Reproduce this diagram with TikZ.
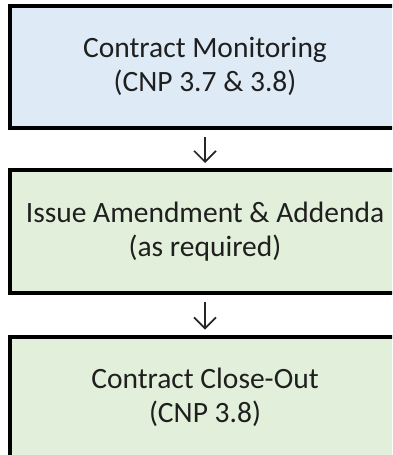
\documentclass[tikz,border=0pt]{standalone}
\usepackage{fontspec}
\setmainfont{Carlito}
\usepackage{xcolor}
\usetikzlibrary{arrows.meta,positioning}
\definecolor{paleblue}{HTML}{DEEBF7}
\definecolor{palegreen}{HTML}{E2EFDA}

\begin{document}
\begin{tikzpicture}[x=1pt,y=1pt]
	\tikzstyle{every node}=[font=\fontsize{29.5}{34}\selectfont]
	\tikzstyle{stage}=[draw=black, line width=4pt, rectangle, minimum width=390pt, minimum height=122.5pt, align=center, text=black!88]
	\tikzstyle{flow}=[line width=1.6pt, draw=black!85, -{Straight Barb[length=11pt,width=22pt]}, shorten <=7pt, shorten >=5pt]
	\useasboundingbox (0,0) rectangle (392,-455);
	\clip (0,0) rectangle (392,-455);
	\node [stage, fill=paleblue] (monitor) at (205,-66.75) {Contract Monitoring\\(CNP 3.7 \& 3.8)};
	\node [stage, fill=palegreen, below=38pt of monitor] (amend) {Issue Amendment \& Addenda\\(as required)};
	\node [stage, fill=palegreen, below=40pt of amend] (closeout) {Contract Close-Out\\(CNP 3.8)};
	\draw [flow] (monitor) -- (amend);
	\draw [flow] (amend) -- (closeout);
\end{tikzpicture}
\end{document}
